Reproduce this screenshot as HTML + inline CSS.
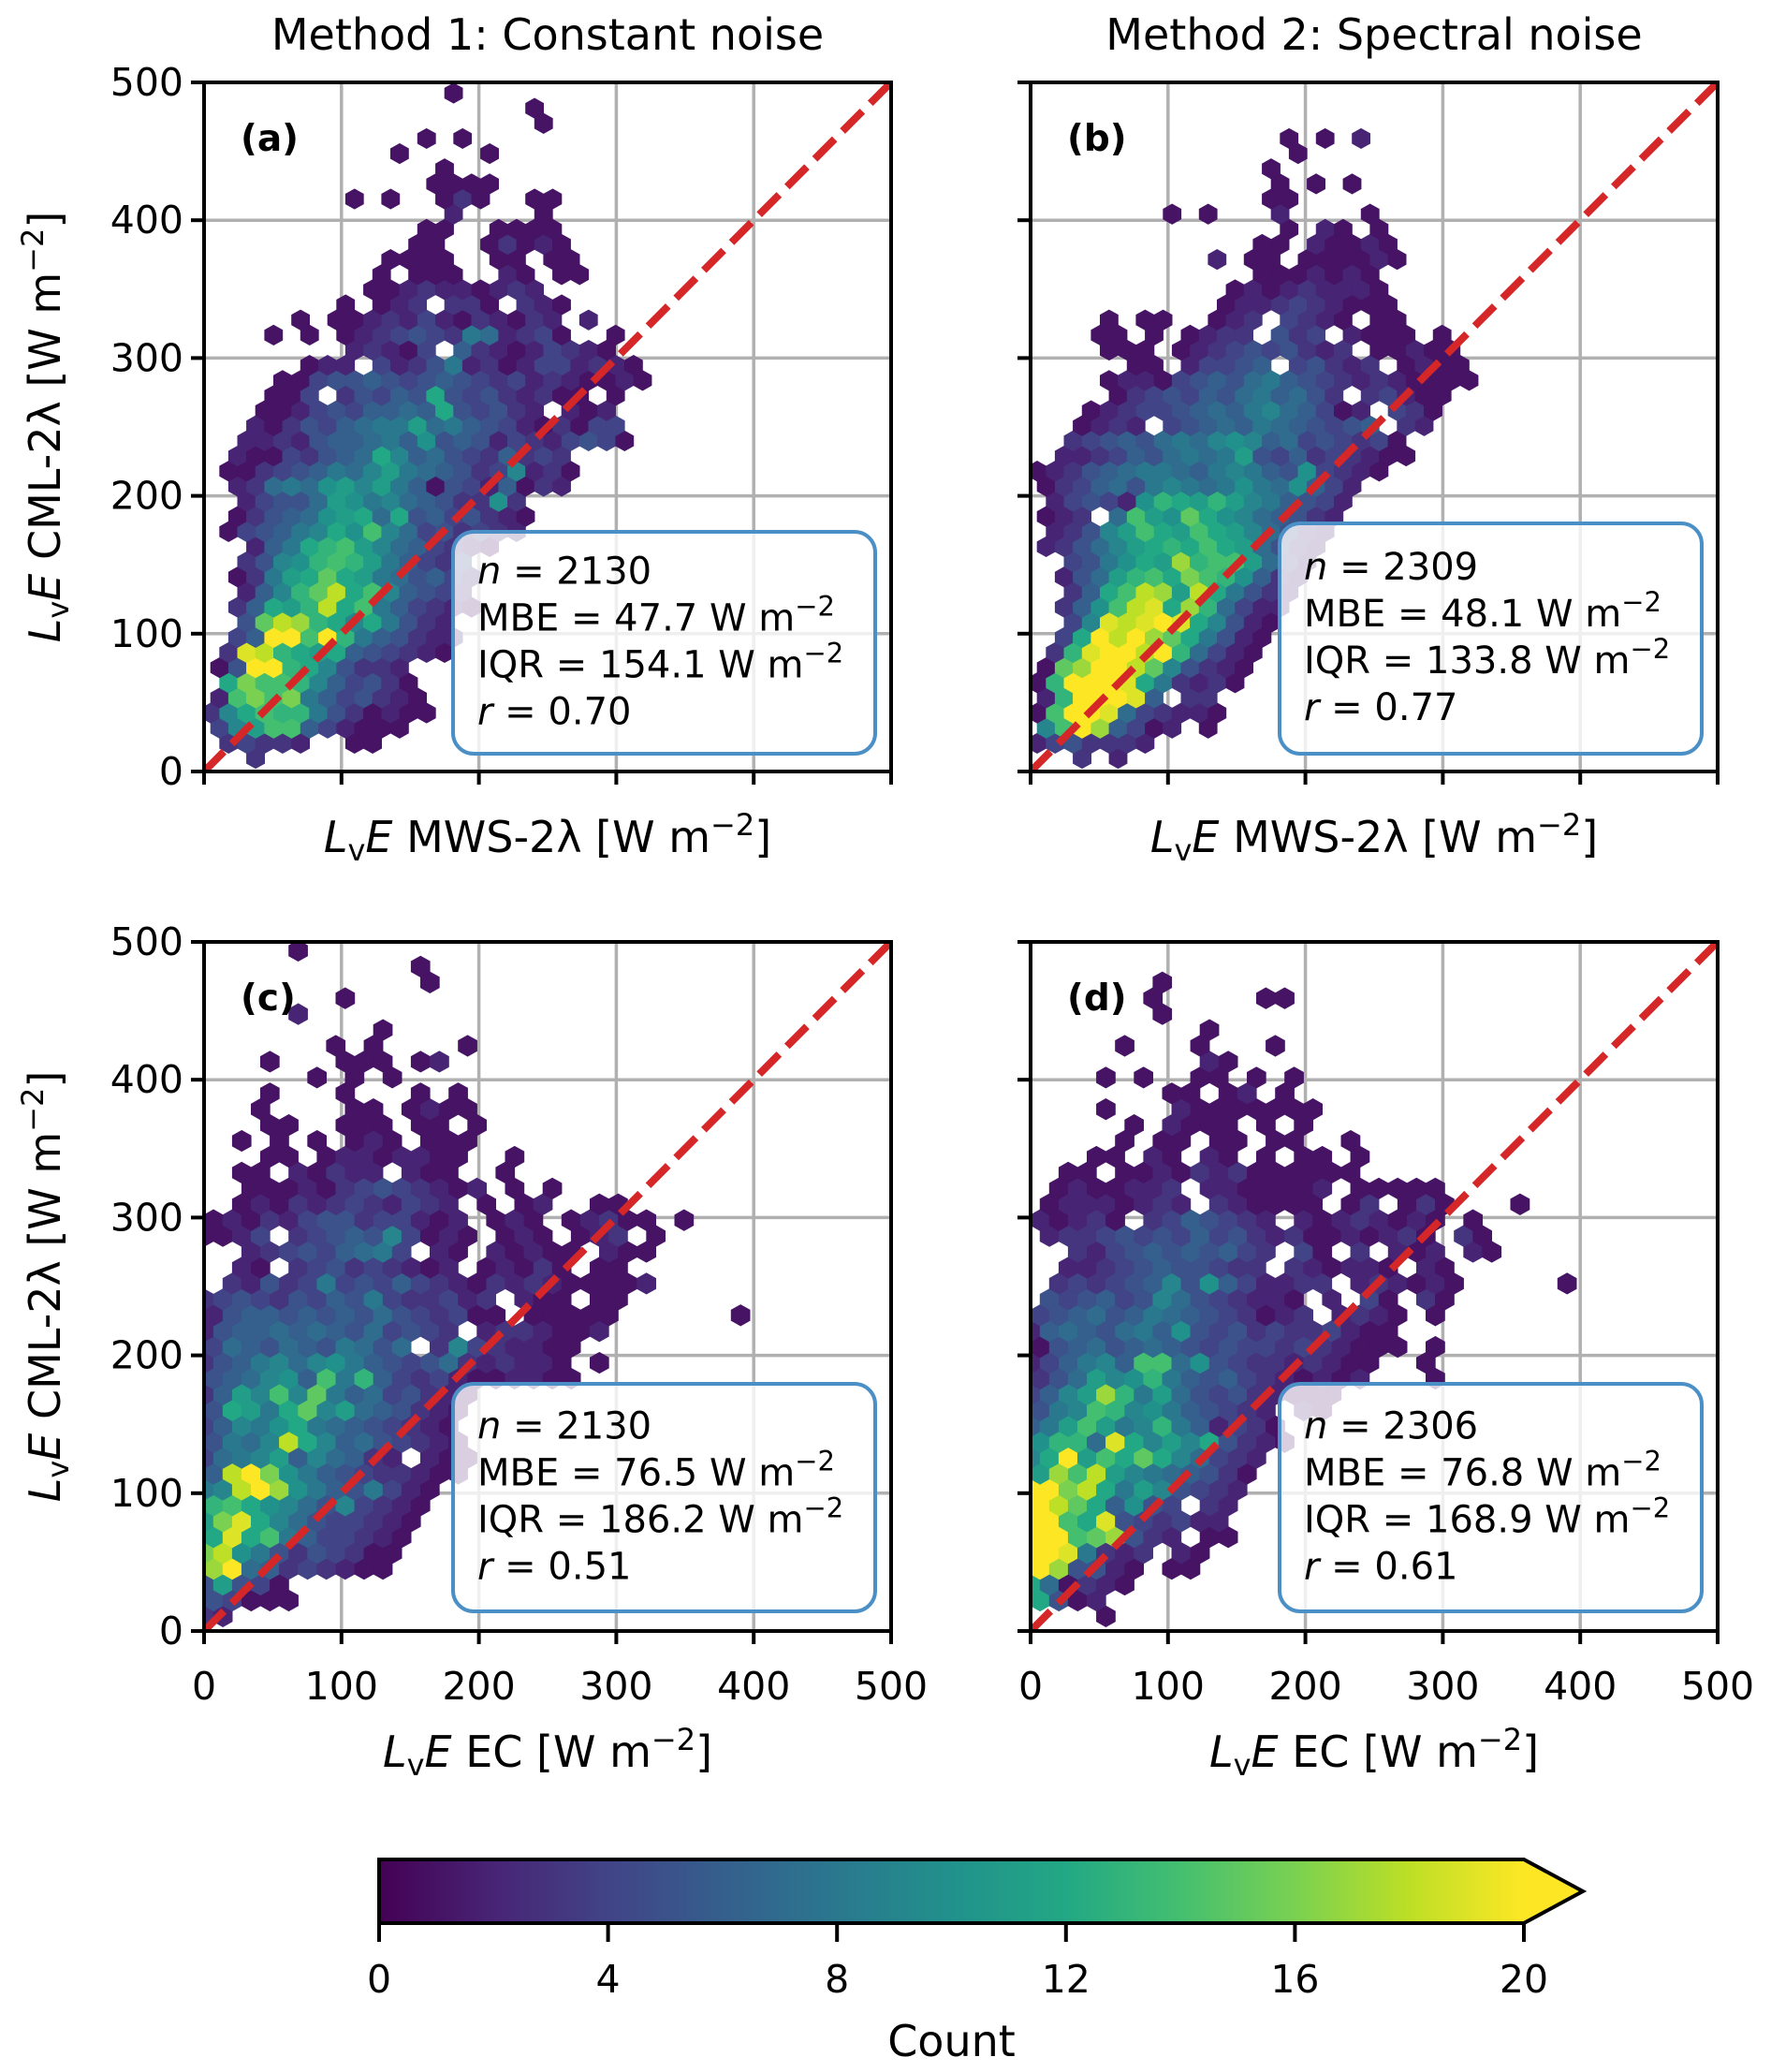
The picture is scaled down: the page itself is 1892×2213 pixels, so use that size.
<!DOCTYPE html>
<html>
<head>
<meta charset="utf-8">
<style>
  html, body { margin: 0; padding: 0; background: #fff; }
  svg { display: block; }
  text { font-family: "DejaVu Sans", "Liberation Sans", sans-serif; fill: #000; }
</style>
</head>
<body>
<svg id="fig" width="1892" height="2213" viewBox="0 0 1892 2213" xmlns="http://www.w3.org/2000/svg">
  <defs>
    <linearGradient id="viridis" x1="0" x2="1" y1="0" y2="0">
      <stop offset="0" stop-color="#440154"/>
      <stop offset="0.1" stop-color="#482475"/>
      <stop offset="0.2" stop-color="#414487"/>
      <stop offset="0.3" stop-color="#355f8d"/>
      <stop offset="0.4" stop-color="#2a788e"/>
      <stop offset="0.5" stop-color="#21918c"/>
      <stop offset="0.6" stop-color="#22a884"/>
      <stop offset="0.7" stop-color="#44bf70"/>
      <stop offset="0.8" stop-color="#7ad151"/>
      <stop offset="0.9" stop-color="#bddf26"/>
      <stop offset="1" stop-color="#fde725"/>
    </linearGradient>
  </defs>
  <g id="root"></g>
</svg>
<script>
// ---------- DATA ----------
// hexbin rows (bottom to top). '.' = empty, '1'-'9' = count, 'a'..'k' = 10..20
const rowsA = [
"..3",".34332..11","49bee642111","39cedd8531211","2egeg8645321",".cgeed964531","15kkdc95332",".3jidcbc654321",
".46kkekd865322","..5fihdc9c8532",".36cbdice864321","..269dfice96543",".138bcfcb875643","..359adedb86435","..268cdeb9764321",".145689cae97453432",
".13567abc7c5645321","..24557ba8976533a3",".23787ab9b8615426132",".113456879b8765349231",".21143567c9675436343","..2232566786a56524324541","..213546788b78654213144","...1124546676c54532.212",
"...114.35465c54532311.1","....114556545654342321121",".....122.423582312442321","........23214.632124321","...1.1.1234543872341..1",".....1.1123242132132.2",".......1.123.331.321",".........1123221232",
".........1.111..21.11","..........1111..11.11","...........11..13121","............11..1111",".............2....1","........1.1..131..11","............1111",".............1",
"..........1....1","............1.1","..................1","..................1",".............1"
];
const rowsB = [
"..3.2","2453332","9ekh6412.1","1ekkj743221","2dkkkj6.33","1dkkkjc83231","1fhkkif95321",".3djkkikd7421",
".4ckikhfc8521","..49jijkjc9521",".36aeijchd7422","..36ceihbic8532",".257bdecgeda632","..458acbhdeeb742","23579bcdcecb7532",".2359becbecb97532",
"123.7ebafca976532",".24542adcbdb986542","13467589878a87a642","123567887689865a4321",".2234657878b546343211","..345657879a967454341","..1232.456768765456.32","...1234456768976412.431",
"....1345465786753.34211","....122145657865432321111",".....11.24456.45323.1211","....111.1234545323.11211","...11.1.1233.534.2111.1","....1.11..123.4321.11","..........1223432111","...........121232221",
"............1112121","..........2.11.111121","............11.21121","..............1.21.1",".......1.1...2....1",".............11",".............1.1.1",".............1",
"..............1","..............1.1.2"
];
const rowsC = [
"32","54111","5b541","hk76343211","gia85354311","cjce8644321","bgjc97544321","deca97594321",
"89ikha8658421","6ikga865433211","4789b697632.211","5879ic96754321","4698ac87654321","5cb8cf9b765321","36b9e9f86745321","5679a6e8d64342112211",
"3568979a865457323221.1","47657658757.39432211","25667676574543.2332112","2566565657543411.11111......1","3454354658433423.211.11",".32534845464321323211112","..21.345343212.12131.11","..234546784.21.21211.211",
"1124.3456594121.121.123.1","12132455344212.121.12311.1","..121323432432.1.12..11","..1112134543212.1.1","..11.21322.211..1","...11.12212211..1","..1.1.1.121.111","...11..111.11.1",
"...1....11.1211","...1...1...1.1","......1.1.1","...1...111.12",".......1.1....1",".........1",".....2",".......1",
"............1","...........1",".....1"
];
const rowsD = [
"....1","c512","c71321","kh5521.11","kkj8323.21","kkefh532.11","kkecj543422","kifc6a54.32",
"kkgic8b95432","bheib9876531","9ckbecfc97432","add7jc9b9c5321","68beb89d862431","589ed9a865432.21","469bhd8b754532111","357b9ad86564321212...1",
"246896ee7a543323211..1","15675676545443432111.1","26765786a54534334211","456756876543123.2321.1",".54564597543221.2.41.31",".34345695a642233.232121.....1","..22345655433.321221.21","..32456565643.41.3.212.21",
".233454546453231121231.31","21231.3465432.21232121.1",".12221232.321111.13.131...1",".1211223.2211112.11111","..11.1121323111111","...11.21.21.1.11.1",".....1.11.11.11..1",".....1.2111.1.1",
"....1...21111111",".......11.12.1","....1.1..11.1.1",".........21",".....1...1...1",".........1",".......1","......1.....11",
".......1"
];
const panelLetters = ["(a)", "(b)", "(c)", "(d)"];
const statN = ["2130", "2309", "2130", "2306"];
const statMBE = ["47.7", "48.1", "76.5", "76.8"];
const statIQR = ["154.1", "133.8", "186.2", "168.9"];
const statR = ["0.70", "0.77", "0.51", "0.61"];
const axisTicks = [0, 100, 200, 300, 400, 500];
const cbarTicks = [0, 4, 8, 12, 16, 20];
const colTitles = ["Method 1: Constant noise", "Method 2: Spectral noise"];

// ---------- LAYOUT ----------
const NS = "http://www.w3.org/2000/svg";
const root = document.getElementById("root");
const W = 734, H = 736;
const lefts = [218, 1101], tops = [88, 1006];
const lattice = [
  {dx: 13.1, dy: 10.97, xe: 11.3, y0: 9.5},
  {dx: 13.1, dy: 10.97, xe: 11.3, y0: 9.5},
  {dx: 13.7, dy: 11.5, xe: 0, y0: 10.6},
  {dx: 13.7, dy: 11.5, xe: 0, y0: 10.6}
];
const allRows = [rowsA, rowsB, rowsC, rowsD];
const vir = ["#440154","#482475","#414487","#355f8d","#2a788e","#21918c","#22a884","#44bf70","#7ad151","#bddf26","#fde725"];
function hex2rgb(h){return [parseInt(h.slice(1,3),16),parseInt(h.slice(3,5),16),parseInt(h.slice(5,7),16)];}
function viridis(t){
  t = Math.max(0, Math.min(1, t)) * 10;
  const i = Math.min(9, Math.floor(t)), f = t - i;
  const a = hex2rgb(vir[i]), b = hex2rgb(vir[i+1]);
  return "rgb(" + a.map((v,k)=>Math.round(v+(b[k]-v)*f)).join(",") + ")";
}
function mk(tag, attrs, parent){
  const e = document.createElementNS(NS, tag);
  for (const k in attrs) e.setAttribute(k, attrs[k]);
  (parent || root).appendChild(e);
  return e;
}
function countOf(ch){
  if (ch === ".") return 0;
  if (ch >= "0" && ch <= "9") return +ch;
  return 10 + ch.charCodeAt(0) - 97;
}

function labelText(parent, x, y, mid, opts){
  const t = mk("text", Object.assign({x: x, y: y, "font-size": 46, "text-anchor": "middle"}, opts || {}), parent);
  t.innerHTML = '<tspan font-style="italic">L</tspan><tspan font-size="32" dy="9">v</tspan><tspan font-style="italic" dy="-9">E</tspan> ' + mid +
    ' [W m<tspan font-size="32" dy="-18">−2</tspan><tspan dy="18">]</tspan>';
  return t;
}

for (let p = 0; p < 4; p++) {
  const col = p % 2, row = Math.floor(p / 2);
  const L = lefts[col], T = tops[row], B = T + H;
  const sx = v => L + v * W / 500;
  const sy = v => B - v * H / 500;
  const g = mk("g", {});
  
  

  const cp = mk("clipPath", {id: "clip" + p}, g);
  mk("rect", {x: L, y: T, width: W, height: H}, cp);

  // grid
  const grid = mk("g", {stroke: "#b0b0b0", "stroke-width": 3.5}, g);
  
  
  axisTicks.forEach(v => {
    mk("line", {x1: sx(v), x2: sx(v), y1: T, y2: B}, grid);
    mk("line", {x1: L, x2: L + W, y1: sy(v), y2: sy(v)}, grid);
  });

  // hexes
  const lat = lattice[p];
  const hw = lat.dx / 2 * W / 500;
  const rs = lat.dy * H / 500;
  const hg = mk("g", {"clip-path": "url(#clip" + p + ")"}, g);
  
  
  allRows[p].forEach((str, j) => {
    const yv = lat.y0 + j * lat.dy;
    for (let i = 0; i < str.length; i++) {
      const c = countOf(str[i]);
      if (!c) continue;
      let xv;
      if (j % 2 === 0) xv = lat.xe + i * lat.dx;
      else xv = (p < 2 ? lat.xe - lat.dx / 2 : lat.xe + lat.dx / 2) + i * lat.dx;
      const cx = sx(xv), cy = sy(yv);
      const pts = [[0,-2*rs/3],[hw,-rs/3],[hw,rs/3],[0,2*rs/3],[-hw,rs/3],[-hw,-rs/3]]
        .map(q => (cx+q[0]).toFixed(1)+","+(cy+q[1]).toFixed(1)).join(" ");
      const h = mk("polygon", {points: pts, fill: viridis(c / 20), stroke: viridis(c / 20), "stroke-width": 0.6}, hg);
      
      
    }
  });

  // 1:1 line
  const dl = mk("line", {x1: sx(0), y1: sy(0), x2: sx(500), y2: sy(500), stroke: "#d62728", "stroke-width": 8, "stroke-dasharray": "30 12", "clip-path": "url(#clip" + p + ")"}, g);
  
  

  // spines
  const sp = mk("rect", {x: L, y: T, width: W, height: H, fill: "none", stroke: "#000", "stroke-width": 4}, g);
  
  

  // ticks
  const tk = mk("g", {stroke: "#000", "stroke-width": 4}, g);
  
  
  axisTicks.forEach(v => {
    mk("line", {x1: sx(v), x2: sx(v), y1: B, y2: B + 14}, tk);
    mk("line", {x1: L - 14, x2: L, y1: sy(v), y2: sy(v)}, tk);
  });
  if (col === 0) {
    axisTicks.forEach(v => {
      const t = mk("text", {x: L - 22, y: sy(v) + 14, "font-size": 41, "text-anchor": "end"}, g);
      t.textContent = v;
      
      
    });
    const yl = labelText(g, 0, 0, "CML-2λ", {transform: "translate(64," + (T + H / 2) + ") rotate(-90)"});
    
    
  }
  if (row === 1) {
    axisTicks.forEach(v => {
      const t = mk("text", {x: sx(v), y: 1815, "font-size": 41, "text-anchor": "middle"}, g);
      t.textContent = v;
      
      
    });
  }
  const xl = labelText(g, L + W / 2, row === 0 ? 910 : 1887, row === 0 ? "MWS-2λ" : "EC");
  
  

  // panel letter
  const pl = mk("text", {x: L + 39, y: T + 73, "font-size": 39, "font-weight": "bold"}, g);
  pl.textContent = panelLetters[p];
  
  

  // stats box
  const by = row === 0 ? (p === 1 ? T + 471 : T + 480) : T + 472;
  const bx = L + 266;
  const bh = row === 0 ? (p === 1 ? 246 : 237) : 243;
  const box = mk("rect", {x: bx, y: by, width: 451, height: bh, rx: 22, ry: 22, fill: "rgba(255,255,255,0.8)", stroke: "#4a8fc6", "stroke-width": 4}, g);
  
  
  const tx = bx + 26;
  const base = by + bh / 2 - 77;
  const lines = [
    '<tspan font-style="italic">n</tspan> = ' + statN[p],
    'MBE = ' + statMBE[p] + ' W m<tspan font-size="29" dy="-16">−2</tspan>',
    'IQR = ' + statIQR[p] + ' W m<tspan font-size="29" dy="-16">−2</tspan>',
    '<tspan font-style="italic">r</tspan> = ' + statR[p]
  ];
  lines.forEach((s, k) => {
    const t = mk("text", {x: tx, y: base + k * 50 + 14, "font-size": 40}, g);
    t.innerHTML = s;
    
    
  });
}

// column titles
colTitles.forEach((s, k) => {
  const t = mk("text", {x: lefts[k] + W / 2, y: 53, "font-size": 46, "text-anchor": "middle"});
  t.textContent = s;
  
  
});

// colorbar
const cbL = 405, cbR = 1628, cbT = 1986, cbB = 2054, cbTip = 1691;
const cb = mk("g", {});


mk("rect", {x: cbL, y: cbT, width: cbR - cbL, height: cbB - cbT, fill: "url(#viridis)"}, cb);
mk("polygon", {points: cbR + "," + cbT + " " + cbTip + "," + ((cbT + cbB) / 2) + " " + cbR + "," + cbB, fill: "#fde725"}, cb);
mk("polygon", {points: cbL + "," + cbT + " " + cbR + "," + cbT + " " + cbTip + "," + ((cbT + cbB) / 2) + " " + cbR + "," + cbB + " " + cbL + "," + cbB, fill: "none", stroke: "#000", "stroke-width": 4}, cb);
cbarTicks.forEach(v => {
  const x = cbL + v / 20 * (cbR - cbL);
  mk("line", {x1: x, x2: x, y1: cbB, y2: cbB + 20, stroke: "#000", "stroke-width": 4}, cb);
  const t = mk("text", {x: x, y: 2128, "font-size": 41, "text-anchor": "middle"}, cb);
  t.textContent = v;
  
  
});
const ct = mk("text", {x: (cbL + cbR) / 2, y: 2196, "font-size": 46, "text-anchor": "middle"}, cb);
ct.textContent = "Count";


</script>
</body>
</html>
